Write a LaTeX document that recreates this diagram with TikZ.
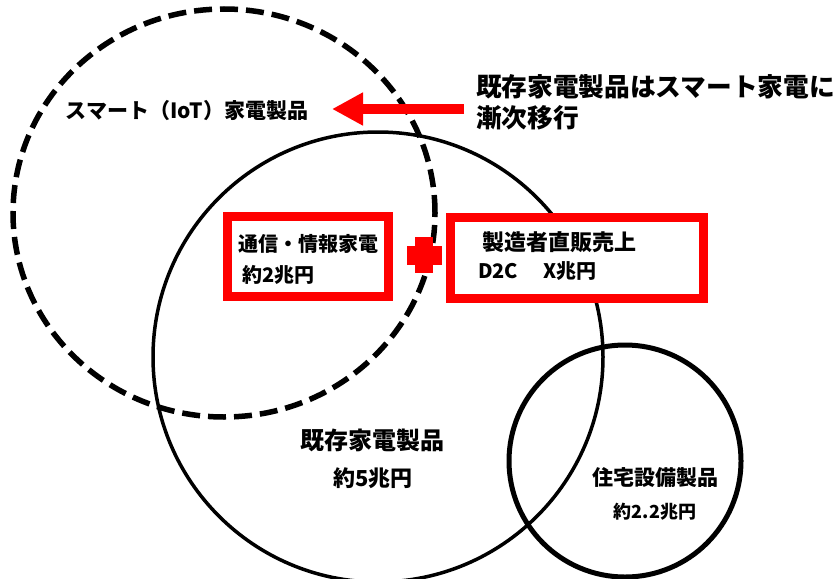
\documentclass[tikz,border=0pt]{standalone}
\usepackage{fontspec}
\setmainfont{Noto Sans CJK JP}
\usetikzlibrary{shapes.geometric,arrows.meta}
\definecolor{boxred}{RGB}{255,0,0}
\tikzset{
  ring/.style={draw=black, inner sep=0pt, outer sep=0pt},
  redbox/.style={draw=boxred, line width=9pt, fill=white, inner sep=0pt},
  lbl/.style={inner sep=0pt, outer sep=0pt, font=\bfseries},
}
\begin{document}
\begin{tikzpicture}[x=1pt,y=-1pt]
\useasboundingbox (0,0) rectangle (840,578);
\clip (0,0) rectangle (840,578);
% circles
\node[ring, circle, line width=3.5pt, minimum size=450pt] (existing) at (378,357) {};
\node[ring, ellipse, line width=5pt, minimum width=232pt, minimum height=232pt] (housing) at (625,461) {};
\node[ring, ellipse, line width=5.5pt, dash pattern=on 18pt off 8pt, minimum width=422pt, minimum height=408pt] (smart) at (224,213) {};
% boxes
\node[redbox, minimum width=161pt, minimum height=80pt] (box1) at (308,256.5) {};
\node[redbox, minimum width=253pt, minimum height=81pt] (box2) at (577,258) {};
% plus
\fill[boxred] (415,237) rectangle (433,273);
\fill[boxred] (407,246) rectangle (442,265);
% arrow
\coordinate (tail) at (464,109);
\coordinate (tip) at (332,109);
\draw[boxred, line width=10pt, -{Triangle[length=31pt,width=31pt]}] (tail) -- (tip);
% labels
\node[lbl, font=\bfseries\fontsize{21}{25}\selectfont] (smartlbl) at (187,111) {スマート（IoT）家電製品};
\node[lbl, anchor=west, align=left, font=\bfseries\fontsize{25.7}{31}\selectfont] (trend) at (476,102.5) {既存家電製品はスマート家電に\\漸次移行};
\node[lbl, font=\bfseries\fontsize{20}{24}\selectfont] (b1a) at (308,244) {通信・情報家電};
\node[lbl, anchor=west, font=\bfseries\fontsize{20}{24}\selectfont] (b1b) at (242,275) {約2兆円};
\node[lbl, anchor=west, font=\bfseries\fontsize{22}{26}\selectfont] (b2a) at (482,242) {製造者直販売上};
\node[lbl, anchor=west, font=\bfseries\fontsize{20}{24}\selectfont] (b2b) at (478,271) {D2C\hspace{25pt}X兆円};
\node[lbl, font=\bfseries\fontsize{24}{28}\selectfont] (exa) at (372,440) {既存家電製品};
\node[lbl, font=\bfseries\fontsize{22}{26}\selectfont] (exb) at (373,478) {約5兆円};
\node[lbl, font=\bfseries\fontsize{21}{25}\selectfont] (hoa) at (655,478) {住宅設備製品};
\node[lbl, font=\bfseries\fontsize{18}{22}\selectfont] (hob) at (655,512) {約2.2兆円};
\end{tikzpicture}
\end{document}
